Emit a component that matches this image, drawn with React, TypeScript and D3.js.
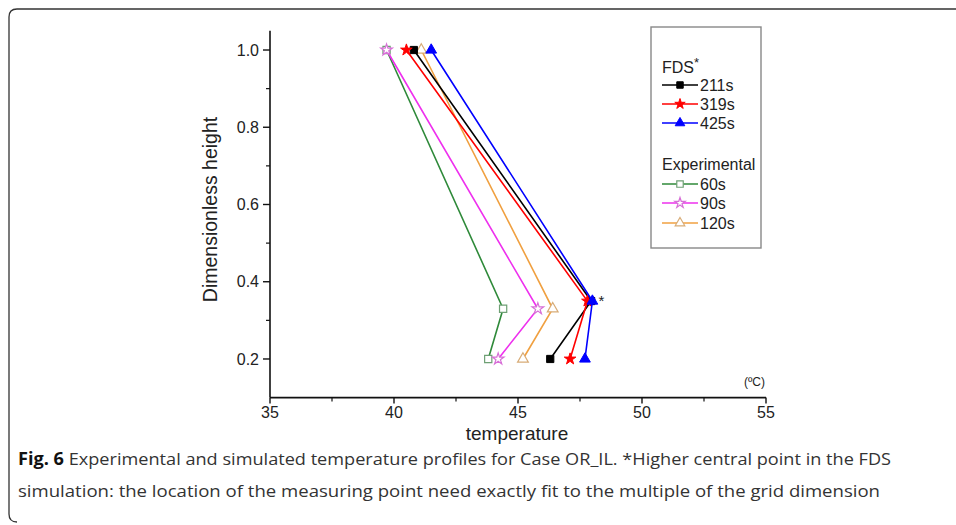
import React, { useEffect, useRef } from "react";
import * as d3 from "d3";

// Heights (dimensionless) of the measuring points
const heightsFds = [1.0, 0.35, 0.2];
const heightsExp = [1.0, 0.33, 0.2];

// Temperatures (°C)
const fds211 = [40.8, 47.95, 46.3];
const fds319 = [40.5, 47.8, 47.1];
const fds425 = [41.5, 48.0, 47.7];
const exp60 = [39.7, 44.4, 43.8];
const exp90 = [39.7, 45.8, 44.2];
const exp120 = [41.1, 46.4, 45.2];

const xTicks = [35, 40, 45, 50, 55];
const xMinor = [37.5, 42.5, 47.5, 52.5];
const yTicks = [0.2, 0.4, 0.6, 0.8, 1.0];
const yMinor = [0.3, 0.5, 0.7, 0.9];

const series = [
  { name: "60s", temps: exp60, heights: heightsExp, color: "#2f8a3a", symbol: d3.symbolSquare, open: true },
  { name: "90s", temps: exp90, heights: heightsExp, color: "#ee30ee", symbol: d3.symbolStar, open: true },
  { name: "120s", temps: exp120, heights: heightsExp, color: "#f0a040", symbol: d3.symbolTriangle, open: true },
  { name: "211s", temps: fds211, heights: heightsFds, color: "#000000", symbol: d3.symbolSquare, open: false },
  { name: "319s", temps: fds319, heights: heightsFds, color: "#ff0000", symbol: d3.symbolStar, open: false },
  { name: "425s", temps: fds425, heights: heightsFds, color: "#0000ff", symbol: d3.symbolTriangle, open: false },
];

const symSize = (t: d3.SymbolType) =>
  t === d3.symbolStar ? 42 : t === d3.symbolTriangle ? 50 : 52;

const App = () => {
  const ref = useRef<SVGSVGElement>(null);

  useEffect(() => {
    const svg = d3.select(ref.current);
    svg.selectAll("*").remove();
    const font = "Liberation Sans, Arial, sans-serif";

    // figure frame
    svg
      .append("path")
      .attr("d", "M956,9 L17,9 Q9,9 9,17 L9,514 Q9,522 17,522")
      .attr("fill", "none")
      .attr("stroke", "#333")
      .attr("stroke-width", 1.3);

    const x = d3.scaleLinear().domain([35, 55]).range([270, 766]);
    const y = d3.scaleLinear().domain([0.1, 1.05]).range([397.6, 30.7]);

    const g = svg.append("g");

    // axes lines
    g.append("line")
      .attr("x1", x(35)).attr("x2", x(35))
      .attr("y1", y(0.1)).attr("y2", y(1.05))
      .attr("stroke", "#111").attr("stroke-width", 1.6);
    g.append("line")
      .attr("x1", x(35)).attr("x2", x(55))
      .attr("y1", y(0.1)).attr("y2", y(0.1))
      .attr("stroke", "#111").attr("stroke-width", 1.6);

    // y ticks
    g.selectAll(".ytick")
      .data(yTicks)
      .enter()
      .append("line")
      .attr("x1", x(35) - 7).attr("x2", x(35))
      .attr("y1", (d) => y(d)).attr("y2", (d) => y(d))
      .attr("stroke", "#111").attr("stroke-width", 1.4);
    g.selectAll(".yminor")
      .data(yMinor)
      .enter()
      .append("line")
      .attr("x1", x(35) - 4).attr("x2", x(35))
      .attr("y1", (d) => y(d)).attr("y2", (d) => y(d))
      .attr("stroke", "#111").attr("stroke-width", 1.2);
    g.selectAll(".ylabel")
      .data(yTicks)
      .enter()
      .append("text")
      .attr("x", x(35) - 11)
      .attr("y", (d) => y(d))
      .attr("dy", "0.35em")
      .attr("text-anchor", "end")
      .attr("font-family", font)
      .attr("font-size", 16)
      .attr("fill", "#222")
      .text((d) => d.toFixed(1));

    // x ticks
    g.selectAll(".xtick")
      .data(xTicks)
      .enter()
      .append("line")
      .attr("x1", (d) => x(d)).attr("x2", (d) => x(d))
      .attr("y1", y(0.1)).attr("y2", y(0.1) + 6)
      .attr("stroke", "#111").attr("stroke-width", 1.4);
    g.selectAll(".xminor")
      .data(xMinor)
      .enter()
      .append("line")
      .attr("x1", (d) => x(d)).attr("x2", (d) => x(d))
      .attr("y1", y(0.1)).attr("y2", y(0.1) + 4)
      .attr("stroke", "#111").attr("stroke-width", 1.2);
    g.selectAll(".xlabel")
      .data(xTicks)
      .enter()
      .append("text")
      .attr("x", (d) => x(d))
      .attr("y", y(0.1) + 20)
      .attr("text-anchor", "middle")
      .attr("font-family", font)
      .attr("font-size", 16)
      .attr("fill", "#222")
      .text((d) => d);

    // axis titles
    g.append("text")
      .attr("x", 517)
      .attr("y", 440)
      .attr("text-anchor", "middle")
      .attr("font-family", font)
      .attr("font-size", 19)
      .attr("fill", "#222")
      .text("temperature");
    g.append("text")
      .attr("transform", `translate(217,${(117 + 302) / 2}) rotate(-90)`)
      .attr("text-anchor", "middle")
      .attr("font-family", font)
      .attr("font-size", 19.5)
      .attr("fill", "#222")
      .text("Dimensionless height");
    g.append("text")
      .attr("x", 765)
      .attr("y", 386)
      .attr("text-anchor", "end")
      .attr("font-family", font)
      .attr("font-size", 12)
      .attr("fill", "#222")
      .text("(ºC)");

    // lines and markers
    series.forEach((s) => {
      const pts = s.temps.map((t, i) => [x(t), y(s.heights[i])] as [number, number]);
      g.append("path")
        .attr("d", d3.line()(pts))
        .attr("fill", "none")
        .attr("stroke", s.color)
        .attr("stroke-width", 1.6);
      const sym = d3.symbol().type(s.symbol).size(symSize(s.symbol));
      g.selectAll(null)
        .data(pts)
        .enter()
        .append("path")
        .attr("transform", (d) => `translate(${d[0]},${d[1]})`)
        .attr("d", sym)
        .attr("fill", s.open ? "#fff" : s.color)
        .attr("stroke", s.open ? d3.interpolateRgb(s.color, "#bbb")(0.45) : s.color)
        .attr("stroke-width", s.open ? 1.2 : 1);
    });

    // asterisk near the higher central FDS point
    g.append("text")
      .attr("x", x(48.0) + 6)
      .attr("y", y(0.35) + 5)
      .attr("font-family", font)
      .attr("font-size", 15)
      .attr("fill", "#222")
      .text("*");

    // legend
    const lg = svg.append("g");
    lg.append("rect")
      .attr("x", 651).attr("y", 27)
      .attr("width", 110).attr("height", 221)
      .attr("fill", "#fff")
      .attr("stroke", "#888")
      .attr("stroke-width", 1.4);
    const head = (label: string, yy: number, star: boolean) => {
      const t = lg.append("text")
        .attr("x", 662).attr("y", yy)
        .attr("font-family", font)
        .attr("font-size", 16)
        .attr("fill", "#222")
        .text(label);
      if (star) t.append("tspan").attr("dy", -6).attr("font-size", 13).text("*");
    };
    head("FDS", 73, true);
    head("Experimental", 170, false);
    const legendRows = [
      { s: series[3], y: 85 },
      { s: series[4], y: 104 },
      { s: series[5], y: 123 },
      { s: series[0], y: 184 },
      { s: series[1], y: 203 },
      { s: series[2], y: 223 },
    ];
    legendRows.forEach(({ s, y: yy }) => {
      lg.append("line")
        .attr("x1", 662).attr("x2", 698)
        .attr("y1", yy).attr("y2", yy)
        .attr("stroke", s.color).attr("stroke-width", 1.6);
      lg.append("path")
        .attr("transform", `translate(680,${yy})`)
        .attr("d", d3.symbol().type(s.symbol).size(symSize(s.symbol) * 0.8))
        .attr("fill", s.open ? "#fff" : s.color)
        .attr("stroke", s.open ? d3.interpolateRgb(s.color, "#bbb")(0.45) : s.color)
        .attr("stroke-width", s.open ? 1.2 : 1);
      lg.append("text")
        .attr("x", 700).attr("y", yy).attr("dy", "0.36em")
        .attr("font-family", font)
        .attr("font-size", 16)
        .attr("fill", "#222")
        .text(s.name);
    });

    // caption
    const capFont = "'Open Sans', 'Noto Sans', sans-serif";
    const c1 = svg.append("text")
      .attr("x", 18).attr("y", 465)
      .attr("font-family", capFont)
      .attr("font-size", 17)
      .attr("fill", "#333")
      .attr("textLength", 873)
      .attr("lengthAdjust", "spacingAndGlyphs");
    c1.append("tspan").attr("font-weight", "bold").attr("fill", "#111").text("Fig. 6");
    c1.append("tspan").text("  Experimental and simulated temperature profiles for Case OR_IL. *Higher central point in the FDS");
    svg.append("text")
      .attr("x", 18).attr("y", 497)
      .attr("font-family", capFont)
      .attr("font-size", 17)
      .attr("fill", "#333")
      .attr("textLength", 862)
      .attr("lengthAdjust", "spacingAndGlyphs")
      .text("simulation: the location of the measuring point need exactly fit to the multiple of the grid dimension");
  }, []);

  return (
    <svg
      ref={ref}
      width={956}
      height={525}
      style={{ position: "absolute", left: 0, top: 0, background: "#fff" }}
    ></svg>
  );
};

export default App;
